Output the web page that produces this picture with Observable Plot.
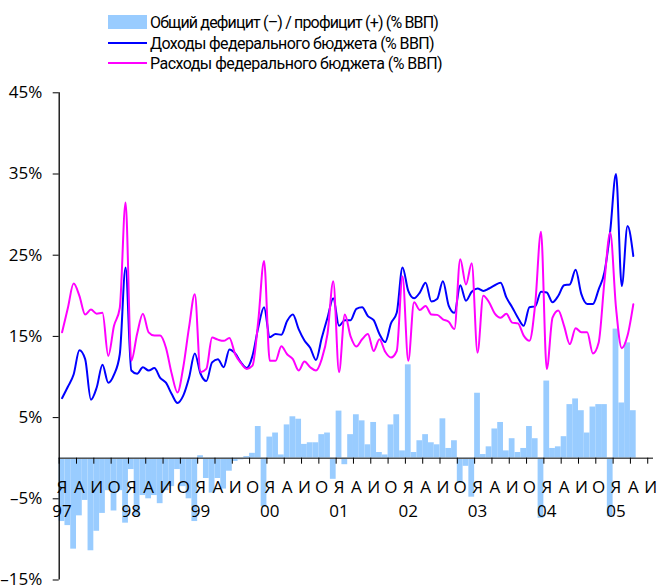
<!DOCTYPE html>
<html><head><meta charset="utf-8">
<script src="https://cdn.jsdelivr.net/npm/d3@7"></script>
<script src="https://cdn.jsdelivr.net/npm/@observablehq/plot@0.6"></script>
<style>
body{margin:0;background:#fff;font-family:"Open Sans",sans-serif;}
#legend{position:relative;height:80px;width:659px;}
.item{position:absolute;left:108px;height:20px;display:flex;align-items:center;font-size:16px;font-family:Roboto,"Open Sans",sans-serif;color:#000;white-space:nowrap;}
.sw{width:39px;margin-right:3px;flex:none;}
#chart svg{display:block;}
</style></head><body>
<div id="legend"></div>
<div id="chart"></div>
<script>
// ---- data (monthly, Jan 1997 .. Apr 2005) ----
const startYear = 1997;
const quarterLetters = ["Я", "А", "И", "О"];
const yearLabels = ["97", "98", "99", "00", "01", "02", "03", "04", "05"];
const yTicks = [-15, -5, 5, 15, 25, 35, 45];
const seriesNames = [
  "Общий дефицит (–) / профицит (+) (% ВВП)",
  "Доходы федерального бюджета (% ВВП)",
  "Расходы федерального бюджета (% ВВП)"
];
const balance = [
  -7.8, -8.3, -11.2, -7.1, -5.2, -11.4, -9.0, -6.8, -4.0, -6.5, -4.0, -8.0,
  -1.4, -7.1, -4.6, -5.0, -4.6, -5.6, -4.0, -3.5, -1.4, -3.5, -5.0, -7.8,
  0.3, -2.5, -4.3, -2.5, -3.8, -1.6, -0.4, -0.2, 0.2, 0.6, 3.9, -6.0,
  2.6, 3.1, 0.4, 4.1, 5.1, 4.8, 1.7, 1.9, 1.9, 2.9, 3.1, -2.6,
  5.8, -0.8, 2.9, 5.35, 4.6, 1.65, 4.4, 0.7, 0.4, 4.1, 5.35, 0.9,
  11.5, 0.7, 2.15, 2.9, 1.9, 1.65, 4.85, 1.2, 2.15, -3.1, -1.0, -4.8,
  8.0, 0.45, 1.4, 3.6, 4.4, 0.9, 2.4, 0.7, 1.2, 3.9, 2.4, -7.4,
  9.5, 1.2, 1.4, 2.65, 6.6, 7.3, 5.85, 3.1, 6.3, 6.6, 6.6, -7.2,
  15.9, 6.8, 14.2, 5.85
];
const revenue = [
  7.4, 8.8, 10.3, 13.3, 12.2, 7.2, 8.7, 11.5, 9.3, 10.3, 12.8, 23.5,
  10.8, 10.4, 11.2, 10.8, 11.1, 9.9, 9.3, 7.9, 6.8, 7.7, 9.9, 12.9,
  10.4, 9.5, 11.8, 12.2, 11.2, 13.4, 12.9, 11.8, 11.1, 12.6, 16.1, 18.6,
  14.9, 15.3, 15.2, 16.9, 17.7, 15.9, 14.5, 13.6, 12.1, 14.8, 17.3, 19.7,
  16.3, 17.0, 17.0, 18.4, 18.6, 17.5, 17.0, 15.3, 14.3, 16.6, 17.9, 23.5,
  20.6, 19.7, 20.4, 21.6, 19.3, 19.6, 21.8, 18.8, 17.9, 21.3, 19.4, 20.5,
  20.9, 20.6, 20.9, 21.3, 21.6, 19.8, 18.6, 17.3, 16.3, 18.6, 18.7, 20.5,
  20.4, 19.2, 20.0, 21.3, 21.4, 23.2, 20.2, 19.0, 19.0, 20.8, 22.9, 28.0,
  35.0, 21.2, 28.6, 24.9
];
const expenditure = [
  15.5, 18.5, 21.5, 20.0, 17.7, 18.3, 17.8, 17.9, 12.6, 16.3, 18.5, 31.5,
  12.0, 15.3, 17.8, 15.5, 15.1, 15.1, 13.6, 10.4, 8.1, 11.2, 16.1, 20.2,
  10.6, 11.0, 14.85, 14.6, 14.45, 14.8, 12.8, 11.7, 11.0, 11.4, 16.9, 24.3,
  12.0, 12.0, 13.8, 12.8, 12.2, 10.8, 11.9, 11.2, 10.8, 12.2, 15.3, 21.8,
  10.6, 17.7, 15.0, 13.75, 14.65, 15.3, 13.2, 14.65, 13.1, 12.4, 13.2, 22.4,
  12.0, 19.2, 18.25, 18.75, 17.7, 17.65, 17.1, 16.8, 15.9, 24.5, 21.4, 24.0,
  13.0, 20.0, 19.2, 17.8, 17.3, 17.8, 16.7, 16.6, 15.1, 14.45, 19.0, 27.9,
  11.0, 17.3, 18.2, 16.3, 14.05, 16.0, 15.5, 15.5, 12.9, 14.25, 21.8, 27.8,
  18.55, 13.55, 15.1, 18.95
];
const colors = {balance: "#99ccff", revenue: "#0000ff", expenditure: "#ff00ff"};

// ---- legend ----
const legend = document.getElementById("legend");
const legendTops = [12, 33, 53];
const legendTextWidths = [288, 284, 292];
seriesNames.forEach((name, k) => {
  const item = document.createElement("div");
  item.className = "item";
  item.style.top = legendTops[k] + "px";
  const sw = document.createElement("div");
  sw.className = "sw";
  if (k === 0) { sw.style.height = "14px"; sw.style.background = colors.balance; }
  else { sw.style.height = "2px"; sw.style.background = k === 1 ? colors.revenue : colors.expenditure; }
  const t = document.createElement("span");
  t.textContent = name;
  item.appendChild(sw); item.appendChild(t);
  legend.appendChild(item);
  const w = t.getBoundingClientRect().width;
  t.style.letterSpacing = ((legendTextWidths[k] - w) / name.length).toFixed(2) + "px";
});

// ---- chart ----
const nMonths = 103; // axis runs Jan 1997 .. end of Jul 2005
const rows = balance.map((b, i) => ({i, i2: i + 1, xm: i + 0.5, balance: b, revenue: revenue[i], expenditure: expenditure[i]}));
const quarterStarts = d3.range(0, nMonths, 3);
const yearStarts = d3.range(0, nMonths, 12);
const fmt = d => (d < 0 ? "\u2013" : "") + Math.abs(d) + "%";

const chart = Plot.plot({
  width: 659,
  height: 507,
  marginLeft: 58.7,
  marginRight: 6,
  marginTop: 12.3,
  marginBottom: 7.5,
  style: {fontFamily: "'Open Sans', sans-serif", fontSize: "17px", color: "#000", background: "transparent", overflow: "visible"},
  x: {domain: [0, nMonths], axis: null},
  y: {domain: [-15, 45], axis: null},
  marks: [
    Plot.rectY(rows, {x1: "i", x2: "i2", y: "balance", fill: colors.balance, inset: 0}),
    Plot.ruleY([0], {stroke: "#555", strokeWidth: 1.6}),
    Plot.ruleX(quarterStarts, {x: d => d, y1: 0, y2: 0, insetBottom: -6, stroke: "#000", strokeWidth: 1}),
    Plot.axisY({ticks: yTicks, tickFormat: fmt, tickSize: 6, tickPadding: 11, fontSize: 17, stroke: "#000"}),
    Plot.ruleX([0], {y1: -15, y2: 45, stroke: "#000", strokeWidth: 1.3}),
    Plot.line(rows, {x: "xm", y: "revenue", stroke: colors.revenue, strokeWidth: 2, curve: "monotone-x"}),
    Plot.line(rows, {x: "xm", y: "expenditure", stroke: colors.expenditure, strokeWidth: 2, curve: "monotone-x"}),
    Plot.text(quarterStarts, {x: d => d + 0.5, y: 0, text: d => quarterLetters[(d / 3) % 4], dy: 29, fontSize: 17, fill: "#000"}),
    Plot.text(yearStarts, {x: d => d + 0.5, y: 0, text: d => yearLabels[d / 12], dy: 53, fontSize: 17, fill: "#000"})
  ]
});
document.getElementById("chart").appendChild(chart);
</script>
</body></html>
